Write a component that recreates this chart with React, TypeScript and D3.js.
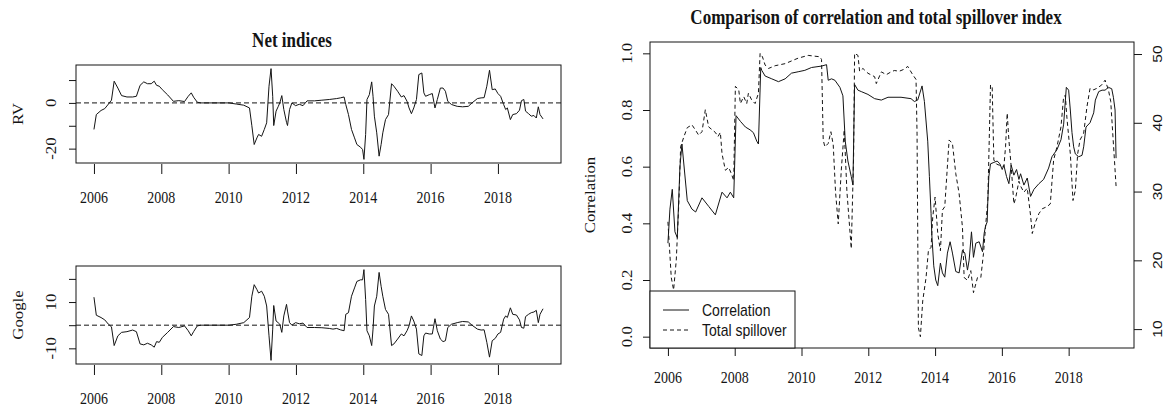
import React, { useEffect, useRef } from 'react';
import * as d3 from 'd3';

// net indices (two panels on the left), same time index for both
const netYears = [
  2006.00, 2006.07, 2006.21, 2006.32, 2006.43, 2006.52, 2006.60, 2006.71, 2006.82, 2006.98,
  2007.15, 2007.26, 2007.37, 2007.48, 2007.59, 2007.70, 2007.79, 2007.86, 2007.94, 2008.03,
  2008.19, 2008.36, 2008.52, 2008.69, 2008.80, 2008.89, 2008.96, 2009.07, 2009.18, 2010.01,
  2010.23, 2010.45, 2010.62, 2010.69, 2010.76, 2010.84, 2010.89, 2010.98, 2011.06, 2011.13,
  2011.20, 2011.26, 2011.31, 2011.34, 2011.41, 2011.47, 2011.52, 2011.58, 2011.64, 2011.72,
  2011.75, 2011.81, 2011.88, 2011.99, 2012.10, 2012.21, 2012.33, 2012.55, 2012.77, 2012.99,
  2013.10, 2013.21, 2013.32, 2013.43, 2013.48, 2013.56, 2013.65, 2013.74, 2013.81, 2013.92,
  2013.98, 2014.02, 2014.07, 2014.11, 2014.18, 2014.25, 2014.29, 2014.33, 2014.40, 2014.47,
  2014.53, 2014.58, 2014.66, 2014.75, 2014.84, 2014.91, 2015.02, 2015.13, 2015.21, 2015.30,
  2015.36, 2015.43, 2015.50, 2015.58, 2015.65, 2015.74, 2015.80, 2015.85, 2015.96, 2016.05,
  2016.13, 2016.20, 2016.29, 2016.37, 2016.44, 2016.51, 2016.62, 2016.79, 2016.95, 2017.12,
  2017.23, 2017.39, 2017.50, 2017.59, 2017.67, 2017.75, 2017.83, 2017.92, 2018.00, 2018.08,
  2018.17, 2018.23, 2018.28, 2018.37, 2018.44, 2018.55, 2018.64, 2018.70, 2018.77, 2018.82,
  2018.91, 2018.99, 2019.07, 2019.14, 2019.20, 2019.25, 2019.34,
];

const rvValues = [
  -11.6, -5.1, -3.3, -2.5, -0.5, 1.2, 9.5, 6.5, 3.2, 2.6,
  2.6, 2.9, 7.7, 9.2, 8.4, 8.4, 9.5, 7.7, 7.3, 5.8,
  3.5, 0.7, 1.0, 0.6, 2.9, 4.4, 2.5, 0.3, 0, 0,
  -0.5, -1.0, -2.2, -10, -18.2, -15.3, -13.8, -14.6, -11.6, -8.7,
  7.3, 15.0, 2.9, -9.9, -3.6, -1.7, 0, 3.2, -2.9, -8.5,
  -9.9, -2.9, 0, -1.2, -0.6, -1.2, 0.9, 0.9, 1.2, 1.5,
  1.7, 1.9, 2.2, 2.6, -0.7, -5.1, -11.6, -15.3, -18.2, -19.4,
  -20.4, -24.7, -13.8, 1.5, 3.6, 9.2, 2.9, -5.8, -13.1, -23.3,
  -18.2, -13.1, -7.3, -5.1, 8.4, 7.3, 5.1, 2.6, 3.2, 0.7,
  -2.2, -4.7, -2.2, 1.5, 12.4, 13.1, 4.4, 2.9, 3.6, 4.1,
  -2.2, 1.5, 6.5, 6.5, 5.1, 0.7, -0.7, -1.5, -1.7, -1.5,
  0, 1.9, 2.2, 2.3, 7.3, 14.3, 5.8, 6.1, 4.1, 2.9,
  -0.7, -2.9, -2.2, -7.3, -5.1, -4.7, -3.2, 1.0, 1.5, -3.6,
  -4.7, -5.8, -5.5, -6.6, -1.7, -5.1, -7.0,
];

const googleValues = [
  12.1, 4.3, 3.3, 2.3, 0.4, -0.7, -8.8, -4.6, -3.1, -2.8,
  -2.1, -2.8, -8.1, -8.5, -7.8, -8.5, -9.5, -7.1, -7.4, -5.3,
  -3.1, -0.6, -1.0, -0.3, -2.4, -4.6, -2.8, -0.3, 0, 0,
  0.4, 1.1, 3.3, 12.5, 17.5, 15.4, 13.9, 14.7, 12.5, 8.3,
  -4.6, -15.2, -1.7, 8.5, 1.8, 1.1, 0.4, -3.1, 4.0, 9.0,
  6.1, 1.1, 0, 1.1, 0.6, 0.9, -1.0, -1.0, -1.1, -1.4,
  -1.7, -1.4, -2.0, -2.4, 4.7, 5.4, 12.5, 16.1, 18.9, 19.6,
  19.6, 24.0, 11.1, -2.4, -4.6, -8.8, -1.7, 8.3, 12.5, 22.8,
  16.8, 12.5, 6.8, 4.7, -8.8, -8.1, -6.0, -3.8, -4.6, -2.4,
  -0.3, 4.0, 1.8, -1.7, -12.4, -13.1, -4.6, -3.4, -3.8, -3.8,
  2.8, -2.4, -6.0, -7.1, -6.7, -1.0, 0.4, 1.1, 1.6, 1.4,
  0, -1.7, -2.1, -2.0, -7.4, -13.8, -6.7, -5.7, -3.8, -3.1,
  2.6, 4.0, 3.3, 7.5, 4.7, 4.4, 2.3, -1.0, -1.3, 3.7,
  4.7, 5.4, 5.7, 6.4, 1.1, 4.7, 7.1,
];

// correlation (solid, left axis)
const corrYears = [
  2006.00, 2006.06, 2006.13, 2006.21, 2006.28, 2006.36, 2006.42, 2006.58, 2006.72, 2006.83,
  2007.02, 2007.22, 2007.42, 2007.62, 2007.77, 2007.87, 2007.97, 2008.04, 2008.17, 2008.32,
  2008.46, 2008.56, 2008.66, 2008.71, 2008.78, 2008.81, 2008.91, 2009.11, 2009.31, 2009.51,
  2009.70, 2009.90, 2010.10, 2010.30, 2010.60, 2010.75, 2010.80, 2010.90, 2011.00, 2011.15,
  2011.24, 2011.31, 2011.39, 2011.49, 2011.54, 2011.59, 2011.69, 2011.79, 2011.99, 2012.19,
  2012.39, 2012.59, 2012.98, 2013.28, 2013.38, 2013.48, 2013.61, 2013.68, 2013.78, 2013.83,
  2013.88, 2013.90, 2013.96, 2014.02, 2014.08, 2014.16, 2014.22, 2014.29, 2014.37, 2014.45,
  2014.52, 2014.62, 2014.72, 2014.82, 2014.89, 2014.97, 2015.02, 2015.09, 2015.15, 2015.22,
  2015.32, 2015.42, 2015.47, 2015.51, 2015.56, 2015.58, 2015.61, 2015.66, 2015.76, 2015.86,
  2015.94, 2016.01, 2016.06, 2016.14, 2016.21, 2016.28, 2016.36, 2016.44, 2016.51, 2016.56,
  2016.66, 2016.76, 2016.86, 2016.96, 2017.11, 2017.25, 2017.40, 2017.50, 2017.65, 2017.77,
  2017.85, 2017.93, 2018.00, 2018.05, 2018.10, 2018.15, 2018.20, 2018.30, 2018.40, 2018.45,
  2018.52, 2018.64, 2018.75, 2018.80, 2018.90, 2019.00, 2019.09, 2019.19, 2019.29, 2019.34,
  2019.39, 2019.42,
];

const corrValues = [
  0.33, 0.45, 0.52, 0.37, 0.35, 0.60, 0.68, 0.48, 0.45, 0.44,
  0.49, 0.46, 0.43, 0.51, 0.49, 0.51, 0.49, 0.78, 0.76, 0.74,
  0.73, 0.72, 0.69, 0.68, 0.95, 0.94, 0.92, 0.91, 0.90, 0.91,
  0.93, 0.935, 0.94, 0.95, 0.955, 0.96, 0.905, 0.91, 0.905, 0.88,
  0.85, 0.69, 0.62, 0.565, 0.535, 0.89, 0.87, 0.865, 0.855, 0.84,
  0.835, 0.845, 0.845, 0.84, 0.83, 0.835, 0.885, 0.83, 0.69, 0.565,
  0.435, 0.365, 0.25, 0.20, 0.18, 0.26, 0.225, 0.21, 0.295, 0.335,
  0.295, 0.23, 0.225, 0.305, 0.295, 0.235, 0.27, 0.37, 0.28, 0.33,
  0.335, 0.30, 0.365, 0.39, 0.405, 0.48, 0.565, 0.61, 0.615, 0.62,
  0.61, 0.59, 0.605, 0.565, 0.54, 0.605, 0.57, 0.59, 0.555, 0.575,
  0.535, 0.56, 0.495, 0.52, 0.54, 0.555, 0.595, 0.635, 0.66, 0.695,
  0.75, 0.88, 0.87, 0.80, 0.72, 0.67, 0.645, 0.635, 0.64, 0.67,
  0.74, 0.755, 0.79, 0.835, 0.865, 0.87, 0.87, 0.88, 0.875, 0.845,
  0.80, 0.63,
];

// total spillover (dashed, right axis)
const spillYears = [
  2006.00, 2006.10, 2006.17, 2006.25, 2006.33, 2006.38, 2006.48, 2006.58, 2006.72, 2006.83,
  2006.92, 2007.02, 2007.12, 2007.22, 2007.32, 2007.42, 2007.50, 2007.57, 2007.62, 2007.72,
  2007.82, 2007.90, 2007.97, 2008.02, 2008.12, 2008.17, 2008.27, 2008.36, 2008.41, 2008.51,
  2008.61, 2008.71, 2008.76, 2008.83, 2008.91, 2009.01, 2009.21, 2009.51, 2009.90, 2010.20,
  2010.55, 2010.60, 2010.65, 2010.70, 2010.80, 2010.88, 2010.95, 2011.02, 2011.10, 2011.19,
  2011.28, 2011.36, 2011.49, 2011.56, 2011.59, 2011.69, 2011.74, 2011.84, 2011.99, 2012.19,
  2012.24, 2012.39, 2012.54, 2012.68, 2012.78, 2012.93, 2013.08, 2013.18, 2013.33, 2013.43,
  2013.46, 2013.50, 2013.56, 2013.63, 2013.73, 2013.80, 2013.88, 2013.93, 2014.00, 2014.08,
  2014.16, 2014.22, 2014.29, 2014.42, 2014.52, 2014.62, 2014.72, 2014.82, 2014.87, 2014.97,
  2015.07, 2015.15, 2015.27, 2015.37, 2015.45, 2015.51, 2015.58, 2015.66, 2015.71, 2015.76,
  2015.84, 2015.94, 2016.06, 2016.11, 2016.16, 2016.21, 2016.28, 2016.36, 2016.41, 2016.51,
  2016.56, 2016.66, 2016.76, 2016.86, 2016.91, 2017.01, 2017.11, 2017.21, 2017.35, 2017.45,
  2017.55, 2017.65, 2017.77, 2017.85, 2017.90, 2017.95, 2018.05, 2018.13, 2018.20, 2018.27,
  2018.34, 2018.45, 2018.55, 2018.64, 2018.75, 2018.84, 2018.99, 2019.09, 2019.19, 2019.26,
  2019.32, 2019.42,
];

const spillValues = [
  25.6, 17.5, 15.7, 20.0, 28.7, 36.5, 38.0, 39.3, 39.7, 38.9,
  38.2, 38.7, 41.9, 39.4, 39.0, 38.6, 38.0, 38.6, 35.5, 33.1,
  33.5, 32.6, 31.6, 45.3, 44.8, 42.8, 43.8, 42.8, 44.3, 43.3,
  42.8, 44.3, 50.1, 49.6, 48.4, 47.9, 48.3, 48.6, 49.4, 49.8,
  49.6, 49.2, 37.5, 36.5, 37.0, 38.7, 36.8, 29.9, 25.3, 33.0,
  39.0, 30.0, 21.7, 35.0, 50.1, 49.8, 47.5, 47.9, 47.2, 46.7,
  45.7, 47.4, 47.0, 47.4, 47.6, 47.5, 47.8, 48.2, 47.0, 46.3,
  38.5, 10.2, 8.9, 14.1, 17.5, 21.4, 21.9, 26.3, 29.2, 23.9,
  21.4, 27.3, 27.8, 37.5, 37.0, 32.6, 29.7, 24.8, 17.5, 17.1,
  18.5, 15.3, 17.5, 17.5, 21.0, 24.8, 28.8, 45.5, 45.2, 34.6,
  34.0, 33.8, 33.6, 36.5, 41.4, 37.5, 33.6, 28.2, 29.0, 31.5,
  30.8, 29.9, 30.5, 26.5, 23.9, 25.6, 26.8, 27.5, 27.8, 28.2,
  34.6, 36.5, 39.4, 43.8, 44.0, 40.6, 35.5, 28.7, 30.2, 35.5,
  37.5, 38.5, 42.4, 45.0, 44.8, 45.0, 45.5, 46.2, 44.8, 43.1,
  38.5, 30.8,
];

const yearTicks = [2006, 2008, 2010, 2012, 2014, 2016, 2018];
const rvTicks = [10, 0, -10, -20];
const rvTickLabels = [0, -20];
const googleTicks = [20, 10, 0, -10];
const googleTickLabels = [10, -10];
const corrTicks = [0, 0.2, 0.4, 0.6, 0.8, 1.0];
const spillTicks = [10, 20, 30, 40, 50];
const legendLabels = ['Correlation', 'Total spillover'];

const SERIF = '"Liberation Serif", "Times New Roman", serif';
const SANS = '"Liberation Sans", Arial, sans-serif';
const INK = '#141414';
const STRETCH = 1.2; // the original picture is a bit taller than wide

// R's default axis style: 4% extra on each end
const pad = (lo: number, hi: number): [number, number] => {
  const r = hi - lo;
  return [lo - 0.04 * r, hi + 0.04 * r];
};

type Sel = d3.Selection<SVGGElement, unknown, null, undefined>;

function txt(g: Sel, x: number, y: number, s: string, size: number, opts: any = {}) {
  g.append('text')
    .attr('transform', `translate(${x},${y}) scale(1,${STRETCH})${opts.rotate ? ` rotate(${opts.rotate})` : ''}`)
    .attr('text-anchor', 'middle')
    .attr('dominant-baseline', 'central')
    .attr('fill', INK)
    .style('font-family', opts.family || SERIF)
    .style('font-size', `${size}px`)
    .style('font-weight', opts.weight || 'normal')
    .text(s);
}

function netPanel(root: Sel, top: number, bottom: number, values: number[], ticks: number[], tickLabels: number[], name: string) {
  const left = 76, right = 561;
  const x = d3.scaleLinear().domain(pad(2006, 2019.34)).range([left, right]);
  const [lo, hi] = d3.extent(values) as [number, number];
  const y = d3.scaleLinear().domain(pad(lo, hi)).range([bottom, top]);
  const g = root.append('g');

  g.append('line')
    .attr('x1', left).attr('x2', right)
    .attr('y1', y(0)).attr('y2', y(0))
    .attr('stroke', INK).attr('stroke-dasharray', '5,3');

  const line = d3.line<number>().x((_, i) => x(netYears[i])).y(d => y(d));
  g.append('path').datum(values).attr('d', line)
    .attr('fill', 'none').attr('stroke', INK).attr('stroke-width', 1);

  g.append('rect')
    .attr('x', left).attr('y', top).attr('width', right - left).attr('height', bottom - top)
    .attr('fill', 'none').attr('stroke', INK);

  const ya = g.append('g').attr('transform', `translate(${left},0)`)
    .call(d3.axisLeft(y).tickValues(ticks).tickSize(7).tickFormat(() => ''));
  ya.select('.domain').remove();
  const xa = g.append('g').attr('transform', `translate(0,${bottom + 1})`)
    .call(d3.axisBottom(x).tickValues(yearTicks).tickSize(10).tickFormat(() => ''));
  xa.select('.domain').remove();
  g.selectAll('.tick line').attr('stroke', INK);

  tickLabels.forEach(v => txt(g, 51, y(v), String(v), 14, { rotate: -90 }));
  yearTicks.forEach(v => txt(g, x(v), bottom + 34, String(v), 14));
  txt(g, 18, (top + bottom) / 2, name, 14, { rotate: -90 });
}

function comparePanel(root: Sel) {
  const left = 650, right = 1134, top = 42, bottom = 348;
  const x = d3.scaleLinear().domain(pad(2006, 2019.42)).range([left, right]);
  const yc = d3.scaleLinear().domain(pad(0, 1)).range([bottom, top]);
  const [slo, shi] = d3.extent(spillValues) as [number, number];
  const ys = d3.scaleLinear().domain(pad(slo, shi)).range([bottom, top]);
  const g = root.append('g');

  const corrLine = d3.line<number>().x((_, i) => x(corrYears[i])).y(d => yc(d));
  const spillLine = d3.line<number>().x((_, i) => x(spillYears[i])).y(d => ys(d));
  g.append('path').datum(spillValues).attr('d', spillLine)
    .attr('fill', 'none').attr('stroke', INK).attr('stroke-dasharray', '4,3');
  g.append('path').datum(corrValues).attr('d', corrLine)
    .attr('fill', 'none').attr('stroke', INK);

  g.append('rect')
    .attr('x', left).attr('y', top).attr('width', right - left).attr('height', bottom - top)
    .attr('fill', 'none').attr('stroke', INK);

  const la = g.append('g').attr('transform', `translate(${left},0)`)
    .call(d3.axisLeft(yc).tickValues(corrTicks).tickSize(7).tickFormat(() => ''));
  la.select('.domain').remove();
  const ra = g.append('g').attr('transform', `translate(${right},0)`)
    .call(d3.axisRight(ys).tickValues(spillTicks).tickSize(8).tickFormat(() => ''));
  ra.select('.domain').remove();
  const xa = g.append('g').attr('transform', `translate(0,${bottom})`)
    .call(d3.axisBottom(x).tickValues(yearTicks).tickSize(8).tickFormat(() => ''));
  xa.select('.domain').remove();
  g.selectAll('.tick line').attr('stroke', INK);

  corrTicks.forEach(v => txt(g, 627, yc(v), v.toFixed(1), 14, { rotate: -90 }));
  spillTicks.forEach(v => txt(g, 1157, ys(v), String(v), 13, { rotate: -90, family: SANS }));
  yearTicks.forEach(v => txt(g, x(v), 377, String(v), 14));
  txt(g, 590, (top + bottom) / 2, 'Correlation', 14, { rotate: -90 });

  // legend, bottom-left corner
  const lg = g.append('g');
  lg.append('rect').attr('x', left).attr('y', 291).attr('width', 145).attr('height', bottom - 291)
    .attr('fill', 'white').attr('stroke', INK);
  legendLabels.forEach((s, i) => {
    const ly = 310 + i * 20;
    lg.append('line').attr('x1', 663).attr('x2', 689).attr('y1', ly).attr('y2', ly)
      .attr('stroke', INK).attr('stroke-dasharray', i ? '4,3' : null);
    lg.append('text')
      .attr('transform', `translate(702,${ly}) scale(1,${STRETCH})`)
      .attr('dominant-baseline', 'central')
      .attr('fill', INK)
      .style('font-family', SANS).style('font-size', '14px')
      .text(s);
  });
}

const App: React.FC = () => {
  const ref = useRef<SVGSVGElement>(null);

  useEffect(() => {
    const svg = d3.select(ref.current);
    svg.selectAll('*').remove();
    const root = svg.append('g') as unknown as Sel;

    txt(root, 292, 40, 'Net indices', 17, { weight: 'bold' });
    txt(root, 876, 17, 'Comparison of correlation and total spillover index', 17, { weight: 'bold' });

    netPanel(root, 65, 163, rvValues, rvTicks, rvTickLabels, 'RV');
    netPanel(root, 266, 364, googleValues, googleTicks, googleTickLabels, 'Google');
    comparePanel(root);
  }, []);

  return (
    <svg ref={ref} width={1169} height={408}
      style={{ position: 'absolute', left: 0, top: 0, background: 'white' }} />
  );
};

export default App;
